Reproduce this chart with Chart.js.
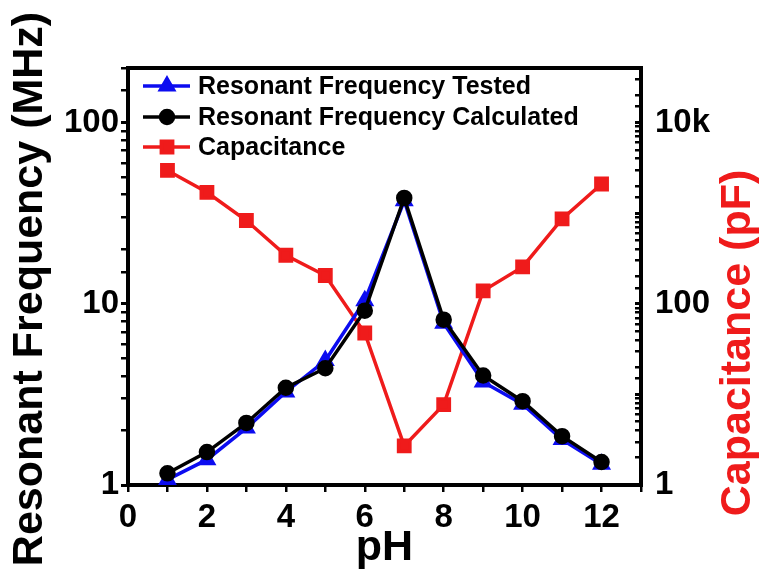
<!DOCTYPE html>
<html>
<head>
<meta charset="utf-8">
<script src="https://cdn.jsdelivr.net/npm/chart.js@4.4.1/dist/chart.umd.min.js"></script>
<style>
html, body { margin: 0; padding: 0; background: #fff; }
</style>
</head>
<body>
<canvas id="grafica" width="763" height="580"></canvas>
<script>
// datos
const phValores = [1, 2, 3, 4, 5, 6, 7, 8, 9, 10, 11, 12];
const frecuenciaMedida = [1.07, 1.38, 2.06, 3.26, 4.86, 10.4, 37.0, 7.8, 3.7, 2.79, 1.78, 1.30];
const frecuenciaCalculada = [1.16, 1.52, 2.2, 3.44, 4.41, 9.16, 38.4, 8.17, 4.02, 2.9, 1.86, 1.34];
const capacitancia = [2960, 1700, 830, 343, 205, 47.6, 2.7, 7.7, 139, 255, 865, 2100];

const etiquetasIzq = { 1: '1', 10: '10', 100: '100' };
const etiquetasDer = { 1: '1', 100: '100', 10000: '10k' };

const fuente = "Arial, 'Liberation Sans', sans-serif";
const AZUL = '#0c0cf0';
const ROJO = '#ef1b1b';
const NEGRO = '#000000';

function puntos(valores) {
    return phValores.map((x, i) => ({ x: x, y: valores[i] }));
}

function esPotencia(v) {
    const l = Math.log10(v);
    return Math.abs(l - Math.round(l)) < 1e-6;
}

// leyenda dentro del area del grafico (una fila por serie)
const leyendaDentro = {
    id: 'leyendaDentro',
    afterDatasetsDraw(chart) {
        const { ctx, chartArea } = chart;
        const filas = [chartArea.top + 18, chartArea.top + 49, chartArea.top + 79];
        const x0 = chartArea.left + 15;
        ctx.save();
        chart.data.datasets.forEach((ds, i) => {
            const y = filas[i];
            ctx.strokeStyle = ds.borderColor;
            ctx.fillStyle = ds.backgroundColor;
            ctx.lineWidth = 3.5;
            ctx.beginPath();
            ctx.moveTo(x0, y);
            ctx.lineTo(x0 + 47, y);
            ctx.stroke();
            Chart.helpers.drawPoint(ctx, {
                pointStyle: ds.pointStyle,
                radius: ds.pointRadius,
                rotation: 0,
                borderWidth: 1
            }, x0 + 24, y);
            ctx.fillStyle = NEGRO;
            ctx.font = 'bold 25px ' + fuente;
            ctx.textBaseline = 'middle';
            ctx.textAlign = 'left';
            ctx.fillText(ds.label, x0 + 55, y + 1);
        });
        ctx.restore();
    }
};

// titulos de los ejes verticales, leidos de abajo hacia arriba
const titulosVerticales = {
    id: 'titulosVerticales',
    afterDraw(chart) {
        const { ctx } = chart;
        const titulos = [
            { texto: 'Resonant Frequency (MHz)', x: 30, y: 289, color: NEGRO },
            { texto: 'Capacitance (pF)', x: 738, y: 343, color: ROJO }
        ];
        ctx.save();
        ctx.font = 'bold 43px ' + fuente;
        ctx.textAlign = 'center';
        ctx.textBaseline = 'middle';
        titulos.forEach(t => {
            ctx.save();
            ctx.translate(t.x, t.y);
            ctx.rotate(-Math.PI / 2);
            ctx.fillStyle = t.color;
            ctx.fillText(t.texto, 0, 0);
            ctx.restore();
        });
        ctx.restore();
    }
};

const ctx = document.getElementById('grafica');

new Chart(ctx, {
    type: 'line',
    data: {
        datasets: [
            {
                label: 'Resonant Frequency Tested',
                data: puntos(frecuenciaMedida),
                yAxisID: 'y',
                borderColor: AZUL,
                backgroundColor: AZUL,
                borderWidth: 3.5,
                pointStyle: 'triangle',
                pointRadius: 7.5,
                pointHoverRadius: 7.5,
                tension: 0,
                order: 1
            },
            {
                label: 'Resonant Frequency Calculated',
                data: puntos(frecuenciaCalculada),
                yAxisID: 'y',
                borderColor: NEGRO,
                backgroundColor: NEGRO,
                borderWidth: 3.5,
                pointStyle: 'circle',
                pointRadius: 6.5,
                pointHoverRadius: 6.5,
                tension: 0,
                order: 0
            },
            {
                label: 'Capacitance',
                data: puntos(capacitancia),
                yAxisID: 'y2',
                borderColor: ROJO,
                backgroundColor: ROJO,
                borderWidth: 3.5,
                pointStyle: 'rect',
                pointRadius: 8,
                pointHoverRadius: 8,
                tension: 0,
                order: 2
            }
        ]
    },
    options: {
        responsive: false,
        animation: false,
        layout: { padding: 0 },
        plugins: {
            legend: { display: false },
            tooltip: { enabled: false }
        },
        scales: {
            x: {
                type: 'linear',
                position: 'bottom',
                min: 0,
                max: 13,
                ticks: {
                    stepSize: 1,
                    autoSkip: false,
                    maxRotation: 0,
                    color: NEGRO,
                    padding: 6,
                    font: { family: fuente, size: 33, weight: 'bold' },
                    callback: v => (v % 2 === 0 && v <= 12) ? String(v) : ''
                },
                grid: { drawOnChartArea: false, drawTicks: true, tickLength: 7, lineWidth: 2.5, color: NEGRO },
                border: { display: true, width: 4, color: NEGRO },
                title: {
                    display: true,
                    text: 'pH',
                    color: NEGRO,
                    font: { family: fuente, size: 43, weight: 'bold' },
                    padding: { top: 0, bottom: 6 }
                },
                afterFit(s) { s.height = 95; }
            },
            xArriba: {
                type: 'linear',
                position: 'top',
                min: 0,
                max: 13,
                ticks: { display: false },
                grid: { display: false },
                border: { display: true, width: 4, color: NEGRO },
                afterFit(s) { s.height = 68; }
            },
            y: {
                type: 'logarithmic',
                position: 'left',
                min: 1,
                max: 200,
                ticks: {
                    autoSkip: false,
                    color: NEGRO,
                    padding: 2,
                    font: { family: fuente, size: 33, weight: 'bold' },
                    callback: v => etiquetasIzq[Math.round(v)] && esPotencia(v) ? etiquetasIzq[Math.round(v)] : ''
                },
                grid: {
                    drawOnChartArea: false,
                    drawTicks: true,
                    tickLength: 7,
                    color: NEGRO,
                    lineWidth: c => (c.tick && esPotencia(c.tick.value)) ? 3 : 2.5
                },
                border: { display: true, width: 4, color: NEGRO },
                afterFit(s) { s.width = 128; }
            },
            y2: {
                type: 'logarithmic',
                position: 'right',
                min: 1,
                max: 40000,
                ticks: {
                    autoSkip: false,
                    color: NEGRO,
                    padding: 20,
                    font: { family: fuente, size: 33, weight: 'bold' },
                    callback: v => etiquetasDer[Math.round(v)] && esPotencia(v) ? etiquetasDer[Math.round(v)] : ''
                },
                grid: {
                    drawOnChartArea: false,
                    drawTicks: true,
                    tickLength: -6,
                    color: NEGRO,
                    lineWidth: c => (c.tick && esPotencia(c.tick.value)) ? 3 : 2.5
                },
                border: { display: true, width: 4, color: NEGRO },
                afterFit(s) { s.width = 122; }
            }
        }
    },
    plugins: [leyendaDentro, titulosVerticales]
});
</script>
</body>
</html>
